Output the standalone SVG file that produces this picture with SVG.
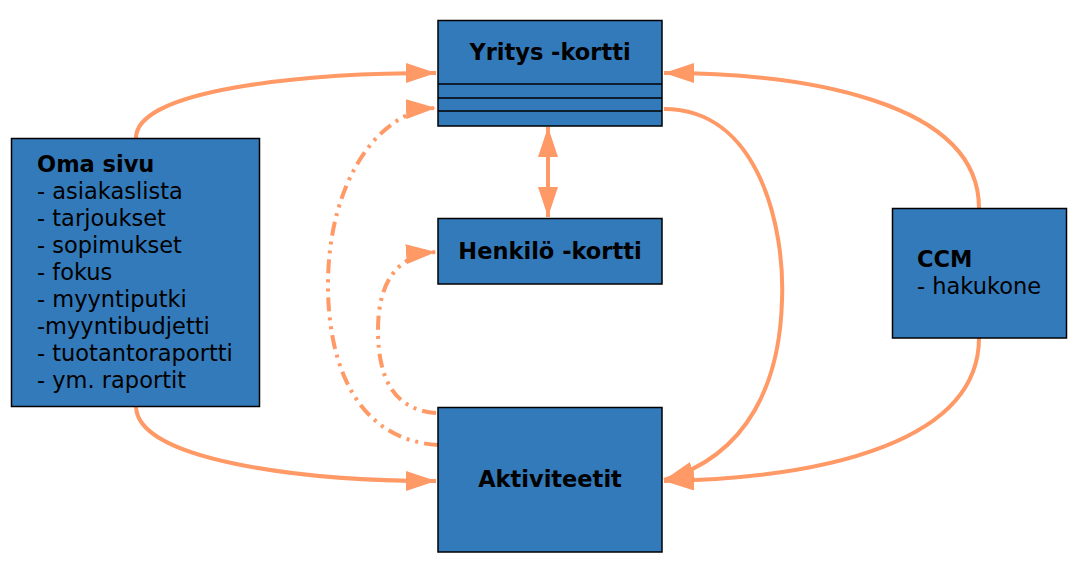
<svg xmlns="http://www.w3.org/2000/svg" width="1079" height="566" viewBox="0 0 1079 566">
<style>
.box{fill:#337abb;stroke:#000;stroke-width:1.5}
.t{font-family:"DejaVu Sans",Verdana,sans-serif;font-size:22.5px;fill:#000}
.b{font-weight:bold}
.c{fill:none;stroke:#ff9966;stroke-width:4}
.dd{stroke-dasharray:14 6 3 6 3 6}
</style>
<defs>
<marker id="ah" viewBox="0 0 30 20" refX="30" refY="10" markerWidth="30" markerHeight="20" markerUnits="userSpaceOnUse" orient="auto-start-reverse">
<path d="M0,0 L30,10 L0,20 Z" fill="#ff9966"/>
</marker>
</defs>
<rect width="1079" height="566" fill="#fff"/>
<g id="connectors">
<path class="c" d="M136,138 C136,90 300,73 436,73" marker-end="url(#ah)"/>
<path class="c" d="M136,406 C136,460 300,481 436,481" marker-end="url(#ah)"/>
<path class="c" d="M979,208 C979,100 800,73 664,73" marker-end="url(#ah)"/>
<path class="c" d="M979,338 C979,440 830,478 664,481" marker-end="url(#ah)"/>
<path class="c" d="M664,109 C760,109 785,230 782,300 C780,380 750,455 664,480" marker-end="url(#ah)"/>
<path class="c" d="M548,127 L548,217" marker-start="url(#ah)" marker-end="url(#ah)"/>
<path class="c dd" d="M438,445 C360,440 328,370 328,285 C328,180 380,110 436,108" marker-end="url(#ah)"/>
<path class="c dd" d="M436,413 C395,410 378,380 378,330 C378,285 395,255 436,252" marker-end="url(#ah)"/>
</g>
<g id="yritys">
<rect class="box" x="438" y="20.5" width="224" height="105.5"/>
<line x1="438" y1="84" x2="662" y2="84" stroke="#000" stroke-width="1.5"/>
<line x1="438" y1="98" x2="662" y2="98" stroke="#000" stroke-width="1.5"/>
<line x1="438" y1="111" x2="662" y2="111" stroke="#000" stroke-width="1.5"/>
<text class="t b" x="550" y="60" text-anchor="middle">Yritys -kortti</text>
</g>
<g id="henkilo">
<rect class="box" x="438" y="218.5" width="224" height="65.5"/>
<text class="t b" x="550" y="259" text-anchor="middle">Henkilö -kortti</text>
</g>
<g id="aktiviteetit">
<rect class="box" x="438" y="407.5" width="224" height="144.5"/>
<text class="t b" x="550" y="487" text-anchor="middle">Aktiviteetit</text>
</g>
<g id="omasivu">
<rect class="box" x="11.5" y="138.5" width="248" height="268"/>
<text class="t b" x="37" y="172">Oma sivu</text>
<text class="t" x="37" y="199">- asiakaslista</text>
<text class="t" x="37" y="226">- tarjoukset</text>
<text class="t" x="37" y="253">- sopimukset</text>
<text class="t" x="37" y="280">- fokus</text>
<text class="t" x="37" y="307">- myyntiputki</text>
<text class="t" x="37" y="334">-myyntibudjetti</text>
<text class="t" x="37" y="361">- tuotantoraportti</text>
<text class="t" x="37" y="388">- ym. raportit</text>
</g>
<g id="ccm">
<rect class="box" x="892.5" y="208.5" width="174" height="129.5"/>
<text class="t b" x="917" y="267">CCM</text>
<text class="t" x="917" y="294">- hakukone</text>
</g>
</svg>
